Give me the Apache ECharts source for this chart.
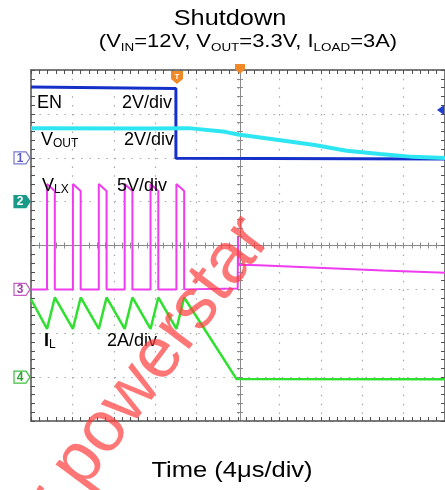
<!DOCTYPE html>
<html>
<head>
<meta charset="utf-8">
<title>Shutdown</title>
<script src="https://cdn.jsdelivr.net/npm/echarts@6/dist/echarts.min.js"></script>
<style>
  html, body { margin: 0; padding: 0; background: #fff; }
  #main { width: 445px; height: 490px; }
</style>
</head>
<body>
<div id="main"></div>
<script>
// time in us (4us/div, trigger at the centre line)
// EN, 2V/div
const enTime = [-20, -6.0, -6.0, 20];
const enVolt = [3.23, 3.16, -0.02, -0.06];

// VOUT, 2V/div
const voutTime = [-20, -8.6, -4.8, -1.25, 0, 4.1, 7.4, 10.5, 13.7, 16.9, 20];
const voutVolt = [3.34, 3.33, 3.35, 3.18, 3.06, 2.8, 2.58, 2.32, 2.17, 2.04, 1.99];

// VLX, 5V/div
const vlxTime = [-20, -18.45, -18.45, -17.7, -17.7, -15.95, -15.95, -15.2, -15.2,
  -13.45, -13.45, -12.7, -12.7, -10.95, -10.95, -10.2, -10.2, -8.45, -8.45, -7.7, -7.7,
  -5.95, -5.95, -5.2, -5.2, -0.03, 0, 0.05, 2, 6, 10, 14, 20];
const vlxVolt = [0, 0, 12.0, 11.2, 0, 0, 12.0, 11.2, 0,
  0, 12.0, 11.2, 0, 0, 12.0, 11.2, 0, 0, 12.0, 11.2, 0,
  0, 12.0, 11.2, 0, 0.1, 6.0, 2.8, 2.75, 2.55, 2.35, 2.15, 1.9];

// IL, 2A/div
const ilTime = [-20, -18.45, -17.7, -15.95, -15.2, -13.45, -12.7, -10.95, -10.2,
  -8.45, -7.7, -5.95, -5.2, -0.15, 20];
const ilAmp = [3.55, 2.2, 3.63, 2.2, 3.63, 2.2, 3.63, 2.2, 3.63,
  2.2, 3.63, 2.2, 3.63, -0.08, -0.1];

function pairs(xs, ys) {
  return xs.map(function (x, i) { return [x, ys[i]]; });
}

var chart = echarts.init(document.getElementById('main'));

var frameColor = '#505050';
var dotColor = '#a8a8a8';
var crossColor = '#8a8a8a';
var font = '"Liberation Sans", Arial, sans-serif';

function xAx(extra) {
  return Object.assign({
    type: 'value', min: -20, max: 20, interval: 4,
    axisLabel: { show: false },
    axisLine: { onZero: false, lineStyle: { color: frameColor, width: 1.5 } },
    axisTick: { inside: true, length: 4, lineStyle: { color: frameColor } },
    minorTick: { show: true, splitNumber: 5, length: 4, lineStyle: { color: frameColor } },
    splitLine: { show: false }
  }, extra);
}
function yAx(extra) {
  return Object.assign({
    type: 'value', min: -4, max: 4, interval: 1,
    axisLabel: { show: false },
    axisLine: { show: true, onZero: false, lineStyle: { color: frameColor, width: 1.5 } },
    axisTick: { show: true, inside: true, length: 4, lineStyle: { color: frameColor } },
    minorTick: { show: true, splitNumber: 5, length: 4, lineStyle: { color: frameColor } },
    splitLine: { show: false }
  }, extra);
}
var crossLine = { onZero: false, lineStyle: { color: crossColor, width: 1 } };
var crossTick = { lineStyle: { color: crossColor } };

// channel scale axes: zero placed at the channel marker
function chAx(min, max) {
  return { type: 'value', show: false, min: min, max: max };
}

var sub = { fontSize: 11, fontFamily: font, fill: '#000', verticalAlign: 'bottom', lineHeight: 12 };
var big = { fontSize: 18, fontFamily: font, fill: '#000', lineHeight: 20 };
var small = { fontSize: 12, fontFamily: font, fill: '#000', verticalAlign: 'bottom', lineHeight: 19 };

function marker(cy, stroke, fill, txt, txtColor) {
  return [
    { type: 'polygon', shape: { points: [[14, cy - 6], [26, cy - 6], [30, cy], [26, cy + 6], [14, cy + 6]] },
      style: { fill: fill, stroke: stroke, lineWidth: 1.2 }, z: 10 },
    { type: 'text', x: 20, y: cy + 0.5, style: { text: txt, font: 'bold 12px ' + font, fill: txtColor, align: 'center', verticalAlign: 'middle' }, z: 11 }
  ];
}

var option = {
  animation: false,
  backgroundColor: '#fff',
  grid: { left: 31, top: 70, width: 418, height: 351 },
  xAxis: [
    xAx({ position: 'bottom', splitLine: { show: true, lineStyle: { color: dotColor, width: 1.2, type: [1.5, 7.28] } } }),
    xAx({ position: 'top' }),
    xAx({ position: 'bottom', offset: -175.5, axisLine: crossLine, axisTick: Object.assign({ inside: true, length: 3 }, crossTick),
      minorTick: Object.assign({ show: true, splitNumber: 5, length: 3 }, crossTick) }),
    xAx({ position: 'bottom', offset: -175.5, axisLine: crossLine, axisTick: Object.assign({ inside: false, length: 3 }, crossTick),
      minorTick: Object.assign({ show: true, splitNumber: 5, length: 3 }, crossTick) })
  ],
  yAxis: [
    yAx({ position: 'left', splitLine: { show: true, lineStyle: { color: dotColor, width: 1.2, type: [1.5, 6.86] } } }),
    yAx({ position: 'right' }),
    yAx({ position: 'left', offset: -209, axisLine: Object.assign({ show: true }, crossLine), axisTick: Object.assign({ show: true, inside: true, length: 3 }, crossTick),
      minorTick: Object.assign({ show: true, splitNumber: 5, length: 3 }, crossTick) }),
    yAx({ position: 'left', offset: -209, axisLine: Object.assign({ show: true }, crossLine), axisTick: Object.assign({ show: true, inside: false, length: 3 }, crossTick),
      minorTick: Object.assign({ show: true, splitNumber: 5, length: 3 }, crossTick) }),
    chAx(-12, 4),   // EN   2V/div, zero at +2 div
    chAx(-10, 6),   // VOUT 2V/div, zero at +1 div
    chAx(-15, 25),  // VLX  5V/div, zero at -1 div
    chAx(-2, 14)    // IL   2A/div, zero at -3 div
  ],
  series: [
    { name: 'EN', type: 'line', xAxisIndex: 0, yAxisIndex: 4, data: pairs(enTime, enVolt),
      showSymbol: false, lineStyle: { color: '#1530c8', width: 3 }, z: 3 },
    { name: 'VOUT', type: 'line', xAxisIndex: 0, yAxisIndex: 5, data: pairs(voutTime, voutVolt),
      showSymbol: false, lineStyle: { color: '#2ee6f2', width: 4 }, z: 4 },
    { name: 'IL', type: 'line', xAxisIndex: 0, yAxisIndex: 7, data: pairs(ilTime, ilAmp),
      showSymbol: false, lineStyle: { color: '#2fe02f', width: 2.5 }, z: 5 },
    { name: 'VLX', type: 'line', xAxisIndex: 0, yAxisIndex: 6, data: pairs(vlxTime, vlxVolt),
      showSymbol: false, lineStyle: { color: '#ee3cee', width: 2 }, z: 6 }
  ],
  graphic: [
    { type: 'text', x: 230, y: 8, scaleX: 1.15, style: { text: 'Shutdown', font: '22px ' + font, fill: '#000', align: 'center', verticalAlign: 'top' } },
    { type: 'text', x: 248, y: 32, scaleX: 1.22, style: {
        text: '{b|(V}{s|IN}{b|=12V, V}{s|OUT}{b|=3.3V, I}{s|LOAD}{b|=3A)}', align: 'center', verticalAlign: 'top',
        rich: { b: { fontSize: 18, fontFamily: font, fill: '#000', lineHeight: 21 }, s: sub } } },
    { type: 'text', x: 232, y: 460, scaleX: 1.16, style: { text: 'Time (4\u03bcs/div)', font: '22px ' + font, fill: '#000', align: 'center', verticalAlign: 'top' } },

    // trace labels
    { type: 'text', x: 37, y: 94, style: { text: 'EN', font: '18px ' + font, fill: '#000' }, z: 20 },
    { type: 'text', x: 122, y: 94, style: { text: '2V/div', font: '18px ' + font, fill: '#000' }, z: 20 },
    { type: 'text', x: 41, y: 130, style: { text: '{b|V}{m|OUT}', rich: { b: big, m: small } }, z: 20 },
    { type: 'text', x: 124, y: 131, style: { text: '2V/div', font: '18px ' + font, fill: '#000' }, z: 20 },
    { type: 'text', x: 42, y: 176, style: { text: '{b|V}{m|LX}', rich: { b: big, m: small } }, z: 20 },
    { type: 'text', x: 117, y: 177, style: { text: '5V/div', font: '18px ' + font, fill: '#000' }, z: 20 },
    { type: 'text', x: 44, y: 331, style: { text: '{b|I}{m|L}', rich: { b: { fontSize: 18, fontFamily: font, fontWeight: 'bold', fill: '#000', lineHeight: 20 }, m: small } }, z: 20 },
    { type: 'text', x: 107, y: 332, style: { text: '2A/div', font: '18px ' + font, fill: '#000' }, z: 20 },

    // trigger marks
    { type: 'polygon', shape: { points: [[171, 71], [183, 71], [183, 79], [177, 84], [171, 79]] }, style: { fill: '#f08a28' }, z: 12 },
    { type: 'text', x: 177, y: 77, style: { text: 'T', font: 'bold 8px ' + font, fill: '#fff', align: 'center', verticalAlign: 'middle' }, z: 13 },
    { type: 'polygon', shape: { points: [[235, 64], [245, 64], [245, 69], [240, 74], [235, 69]] }, style: { fill: '#f08a28' }, z: 12 },
    { type: 'polygon', shape: { points: [[437, 110], [444, 105], [444, 115]] }, style: { fill: '#1f3fd0' }, z: 12 }
  ]
    .concat(marker(157.8, '#7878d0', '#fff', '1', '#5a5ac0'))
    .concat(marker(201.6, '#1a9a88', '#1a9a88', '2', '#fff'))
    .concat(marker(289.4, '#c45ac4', '#fff', '3', '#a040a0'))
    .concat(marker(377.1, '#3cbf3c', '#fff', '4', '#2f9f2f'))
    .concat([
      // watermark
      { type: 'text', x: 70, y: 536, rotation: 0.93, style: { text: 'r powerstar', font: '72px ' + font, fill: 'rgba(255,60,60,0.7)', align: 'left', verticalAlign: 'bottom' }, z: 30 }
    ])
};

chart.setOption(option);
</script>
</body>
</html>
